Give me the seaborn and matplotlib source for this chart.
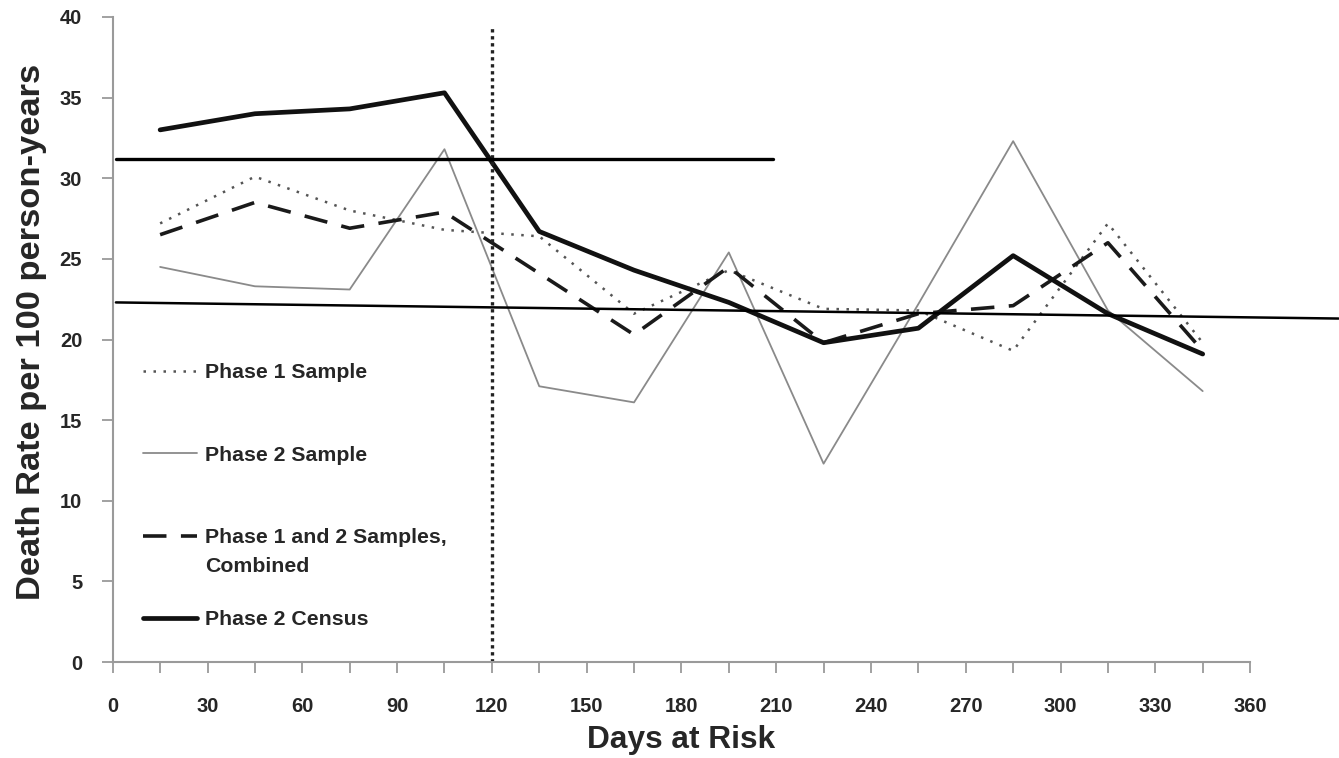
import matplotlib
matplotlib.use("Agg")
import matplotlib.pyplot as plt
import seaborn as sns
import pandas as pd

# ---- data ----
days = [15, 45, 75, 105, 135, 165, 195, 225, 255, 285, 315, 345]
phase1_sample = [27.2, 30.1, 28.0, 26.8, 26.4, 21.6, 24.3, 21.9, 21.8, 19.3, 27.2, 19.8]
phase2_sample = [24.5, 23.3, 23.1, 31.8, 17.1, 16.1, 25.4, 12.3, 22.2, 32.3, 21.8, 16.8]
combined = [26.5, 28.5, 26.9, 27.9, 24.1, 20.3, 24.5, 19.8, 21.6, 22.1, 26.0, 19.3]
census = [33.0, 34.0, 34.3, 35.3, 26.7, 24.3, 22.3, 19.8, 20.7, 25.2, 21.6, 19.1]

series_labels = ["Phase 1 Sample", "Phase 2 Sample",
                 "Phase 1 and 2 Samples,", "Phase 2 Census"]
combined_second_line = "Combined"

cutoff_day = [120, 120]
cutoff_span = [0, 39.4]
ref_line1_x = [1, 209]
ref_line1_y = [31.2, 31.2]
ref_line2_x = [1, 388]
ref_line2_y = [22.3, 21.3]

x_major = list(range(0, 361, 30))
x_minor = list(range(15, 360, 30))
y_ticks = list(range(0, 41, 5))

df = pd.DataFrame({"days": days, "p1": phase1_sample, "p2": phase2_sample,
                   "comb": combined, "census": census})

sns.set_style("ticks")
plt.rcParams['font.family'] = ['Liberation Sans', 'DejaVu Sans']

fig = plt.figure(figsize=(13.39, 7.58), dpi=100)
ax = fig.add_axes([0.0842, 0.1266, 0.8494, 0.851])

sns.lineplot(data=df, x="days", y="p1", ax=ax, color="#555555", lw=1.8,
             linestyle=(0, (1, 3)), label=series_labels[0])
sns.lineplot(data=df, x="days", y="p2", ax=ax, color="#8a8a8a", lw=1.3,
             label=series_labels[1])
sns.lineplot(data=df, x="days", y="comb", ax=ax, color="#1a1a1a", lw=2.6,
             linestyle=(0, (6.5, 4)), label=series_labels[2])
sns.lineplot(data=df, x="days", y="census", ax=ax, color="#111111", lw=3.4,
             label=series_labels[3])
handles = list(ax.get_lines())[:4]

# reference / annotation lines
ax.plot(cutoff_day, cutoff_span, color="#222222", lw=2.4, linestyle=(0, (1, 1.1)))
ax.plot(ref_line1_x, ref_line1_y, color="black", lw=2.4)
ax.plot(ref_line2_x, ref_line2_y, color="black", lw=1.8, clip_on=False)

ax.set_xlim(0, 360)
ax.set_ylim(0, 40)
ax.set_xticks(x_major)
ax.set_xticks(x_minor, minor=True)
ax.set_yticks(y_ticks)
ax.set_xticklabels([str(v) for v in x_major], fontsize=14.5, fontweight="bold")
ax.set_yticklabels([str(v) for v in y_ticks], fontsize=14.5, fontweight="bold")
ax.tick_params(axis="x", which="both", direction="out", length=8, width=1.3,
               color="#9a9a9a", pad=17)
ax.tick_params(axis="y", direction="out", length=8, width=1.3,
               color="#9a9a9a", pad=14)
for s in ["top", "right"]:
    ax.spines[s].set_visible(False)
for s in ["left", "bottom"]:
    ax.spines[s].set_color("#9a9a9a")
    ax.spines[s].set_linewidth(1.5)

ax.set_xlabel("Days at Risk", fontsize=22.8, fontweight="bold")
ax.set_ylabel("Death Rate per 100 person-years", fontsize=24.8, fontweight="bold")
ax.xaxis.set_label_coords(0.5, -0.121)
ax.xaxis.label.set_va("center")
ax.yaxis.set_label_coords(-0.071, 0.512)
ax.yaxis.label.set_va("center")

leg = ax.legend(handles=handles, labels=series_labels, loc="upper left",
                bbox_to_anchor=(0.0266, 0.463), frameon=False,
                prop={"size": 15.3, "weight": "bold"}, handlelength=2.55,
                handletextpad=0.38, labelspacing=2.98, borderpad=0,
                borderaxespad=0)

fig.canvas.draw()
bb = leg.get_texts()[2].get_window_extent()
W, H = fig.get_size_inches() * fig.dpi
fig.text(bb.x0 / W, (bb.y0 - 29) / H, combined_second_line, fontsize=15.3,
         fontweight="bold", va="bottom", ha="left")

fig.savefig("out.png", dpi=100)
